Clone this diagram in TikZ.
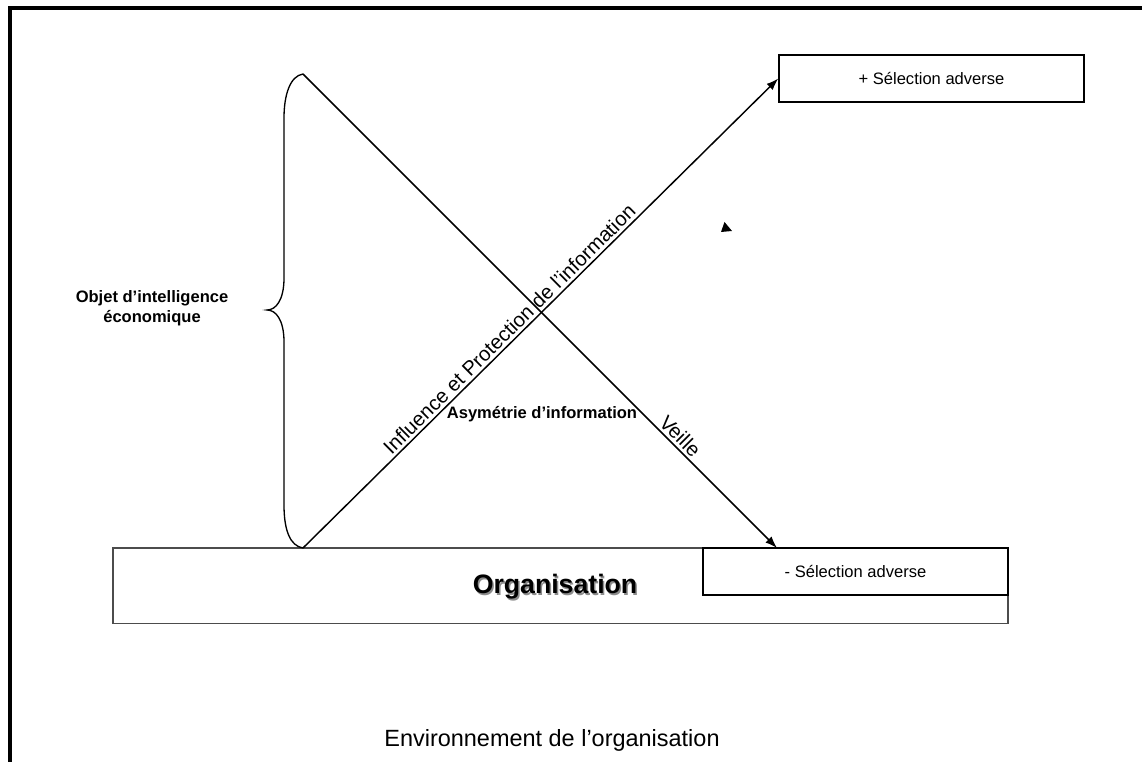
\documentclass[tikz,border=0pt]{standalone}
\usepackage{fontspec}
\setmainfont{Liberation Sans}
\usetikzlibrary{arrows.meta}
\begin{document}
\begin{tikzpicture}[x=0.75pt,y=-0.75pt,
  selbox/.style={draw=black,line width=1.1pt,fill=white,minimum width=228.75pt,minimum height=35.25pt,inner sep=0pt,font=\fontsize{12.4}{15}\selectfont},
  orgbox/.style={draw=black!70,line width=1.1pt,minimum width=671.25pt,minimum height=56.6pt,inner sep=0pt},
  arr/.style={line width=1.1pt,-{Latex[length=9pt,width=6.5pt]}},
  smallbold/.style={font=\fontsize{12.4}{15}\selectfont\bfseries},
  diag/.style={font=\fontsize{15.2}{18}\selectfont,sloped,above,inner sep=2pt}]
\useasboundingbox (0,0) rectangle (1142,762);
% frame (cropped)
\draw[line width=2.7pt] (10,770) -- (10,8) -- (1150,8);
% boxes
\node[orgbox] (orga) at (560.5,585.8) {};
\node[selbox] (selminus) at (855.5,571.5) {- Sélection adverse};
\node[selbox] (selplus) at (931.5,78.5) {+ Sélection adverse};
% Organisation label with shadow
\node[font=\fontsize{20}{24}\selectfont\bfseries,text=black!45] at (556.5,588.5) {Organisation};
\node[font=\fontsize{20}{24}\selectfont\bfseries] (orgtext) at (555,587) {Organisation};
% coordinates
\coordinate (top) at (303,74);
\coordinate (bot) at (303,548);
\coordinate (tipm) at (777,548);
% brace
\draw[line width=1pt] (top) .. controls (290,76) and (284,95) .. (284,118) -- (284,278)
  .. controls (284,300) and (276,310) .. (267,310)
  .. controls (276,310) and (284,320) .. (284,342) -- (284,505)
  .. controls (284,530) and (290,546) .. (bot);
% arrows
\draw[arr] (bot) -- node[diag,pos=0.45] (inflabel) {Influence et Protection de l’information} (selplus.west);
\draw[arr] (top) -- node[diag,pos=0.78] (veillelabel) {Veille} (tipm);
% stray arrowhead
\fill (721,232) -- (732,231) -- (724.5,222) -- cycle;
% labels
\node[smallbold,align=center] (objet) at (152,308) {Objet d’intelligence\\économique};
\node[smallbold] (asym) at (542,414) {Asymétrie d’information};
\node[font=\fontsize{17.6}{21}\selectfont] (env) at (552,740) {Environnement de l’organisation};
\end{tikzpicture}
\end{document}
